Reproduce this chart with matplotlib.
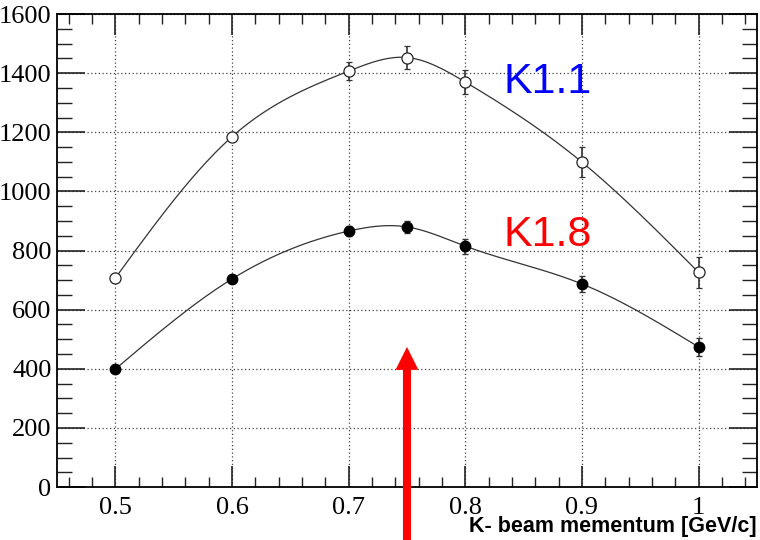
import numpy as np
import matplotlib
matplotlib.use("Agg")
import matplotlib.pyplot as plt
from matplotlib.ticker import MultipleLocator

plt.rcParams['font.family'] = ['Liberation Serif', 'DejaVu Serif']

# datos
momentum = [0.5, 0.6, 0.7, 0.75, 0.8, 0.9, 1.0]
k11_yield = [707, 1185, 1407, 1453, 1370, 1099, 726]
k11_error = [12, 14, 30, 38, 40, 50, 52]
k18_yield = [399, 704, 866, 880, 815, 687, 474]
k18_error = [10, 12, 18, 20, 25, 28, 30]

xtick_vals = [0.5, 0.6, 0.7, 0.8, 0.9, 1.0]
xtick_labels = ["0.5", "0.6", "0.7", "0.8", "0.9", "1"]
xlabel_text = "K- beam mementum [GeV/c]"
arrow_x = 0.75


def spline_natural(x, y, n=300):
    # spline cubico natural, solo para dibujar la curva suave
    x = np.asarray(x, float)
    y = np.asarray(y, float)
    m = len(x)
    h = np.diff(x)
    A = np.zeros((m, m))
    b = np.zeros(m)
    A[0, 0] = 1
    A[-1, -1] = 1
    for i in range(1, m - 1):
        A[i, i - 1] = h[i - 1]
        A[i, i] = 2 * (h[i - 1] + h[i])
        A[i, i + 1] = h[i]
        b[i] = 6 * ((y[i + 1] - y[i]) / h[i] - (y[i] - y[i - 1]) / h[i - 1])
    M = np.linalg.solve(A, b)
    xs = np.linspace(x[0], x[-1], n)
    ys = np.zeros_like(xs)
    for k, xv in enumerate(xs):
        i = min(np.searchsorted(x, xv, side="right") - 1, m - 2)
        t1 = x[i + 1] - xv
        t0 = xv - x[i]
        ys[k] = (M[i] * t1**3 + M[i + 1] * t0**3) / (6 * h[i]) \
            + (y[i] / h[i] - M[i] * h[i] / 6) * t1 \
            + (y[i + 1] / h[i] - M[i + 1] * h[i] / 6) * t0
    return xs, ys


fig = plt.figure(figsize=(7.6, 5.4), dpi=100)
ax = fig.add_axes([0.075, 0.098, 0.921, 0.876])

ax.set_xlim(0.45, 1.05)
ax.set_ylim(0, 1600)

# curvas suaves
xs, ys = spline_natural(momentum, k11_yield)
ax.plot(xs, ys, color="#333333", lw=0.9, zorder=2)
xs, ys = spline_natural(momentum, k18_yield)
ax.plot(xs, ys, color="#333333", lw=0.9, zorder=2)

# puntos con barras de error
ax.errorbar(momentum, k11_yield, yerr=k11_error, fmt="o", mfc="white", mec="#222222",
            mew=0.9, ms=8, ecolor="#333333", elinewidth=1.2, capsize=2, capthick=1, zorder=3)
ax.errorbar(momentum, k18_yield, yerr=k18_error, fmt="o", mfc="black", mec="black",
            ms=7.5, ecolor="#333333", elinewidth=1.2, capsize=2, capthick=1, zorder=3)

ax.text(0.833, 1333, "K1.1", color="#0000ff", fontsize=31, family="Liberation Sans")
ax.text(0.833, 815, "K1.8", color="#ff0000", fontsize=31, family="Liberation Sans")

# flecha roja que sale por debajo del eje
ax.annotate("", xy=(arrow_x, 474), xycoords="data",
            xytext=(arrow_x, -0.03), textcoords=("data", "figure fraction"),
            arrowprops=dict(width=5.8, headwidth=16.5, headlength=16.5,
                            facecolor="#ff0000", edgecolor="none", lw=0, shrink=0),
            annotation_clip=False, zorder=5)

# ejes estilo ROOT
ax.set_xticks(xtick_vals)
ax.set_xticklabels(xtick_labels)
ax.xaxis.set_minor_locator(MultipleLocator(0.02))
ax.yaxis.set_major_locator(MultipleLocator(200))
ax.yaxis.set_minor_locator(MultipleLocator(50))
ax.tick_params(which="both", direction="in", top=True, right=True, color="#222222",
               labelsize=19)
ax.tick_params(axis="x", which="major", length=15, width=1.2, pad=7)
ax.tick_params(axis="x", which="minor", length=7, width=1)
ax.tick_params(axis="y", which="major", length=20, width=1.2, pad=4)
ax.tick_params(axis="y", which="minor", length=11, width=1)

ax.grid(True, which="major", ls=(0, (1, 2)), color="#444444", lw=0.9)
for s in ax.spines.values():
    s.set_linewidth(1.3)

fig.text(0.996, 0.0148, xlabel_text, ha="right", va="baseline", fontsize=15.5,
         fontweight="bold", family="Liberation Sans")

fig.savefig("out.png", dpi=100)
